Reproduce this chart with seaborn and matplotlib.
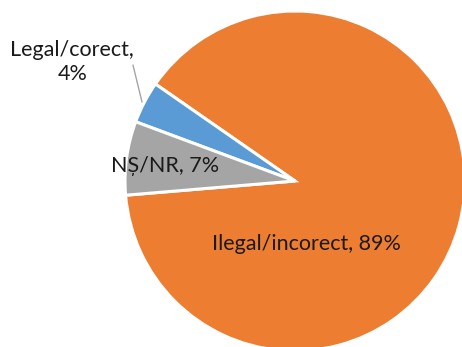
import matplotlib
matplotlib.use("Agg")
import matplotlib.pyplot as plt
import seaborn as sns

categories = ["Ilegal/incorect", "Legal/corect", "NȘ/NR"]
values = [89, 4, 7]
colors = ["#ED7D31", "#5B9BD5", "#A5A5A5"]

sns.set_style("white")
plt.rcParams['font.family'] = ['Lato', 'DejaVu Sans']

W, H = 462, 347
fig = plt.figure(figsize=(W / 100, H / 100), dpi=100)
cx, cy, r = 295, 181, 170
ax = fig.add_axes([(cx - r) / W, (H - cy - r) / H, 2 * r / W, 2 * r / H])
ax.pie(values, colors=colors, startangle=184.8, counterclock=True,
       radius=1, wedgeprops=dict(edgecolor="white", linewidth=2.2))
ax.set_xlim(-1, 1)
ax.set_ylim(-1, 1)
ax.set_aspect("auto")
ax.axis("off")

fs = 15.5
ax.text(0.065, -0.37, f"{categories[0]}, {values[0]}%", ha="center", va="center", fontsize=fs, color="#1a1a1a")
ax.text(-0.765, 0.09, f"{categories[2]}, {values[2]}%", ha="center", va="center", fontsize=fs, color="#1a1a1a")
ax.text(-1.31, 0.70, f"{categories[1]},\n{values[1]}%", ha="center", va="center", fontsize=fs,
        color="#1a1a1a", linespacing=1.3)
ax.plot([-0.953, -0.9], [0.682, 0.465], color="#A5A5A5", lw=1, clip_on=False)

fig.savefig("out.png", dpi=100)
